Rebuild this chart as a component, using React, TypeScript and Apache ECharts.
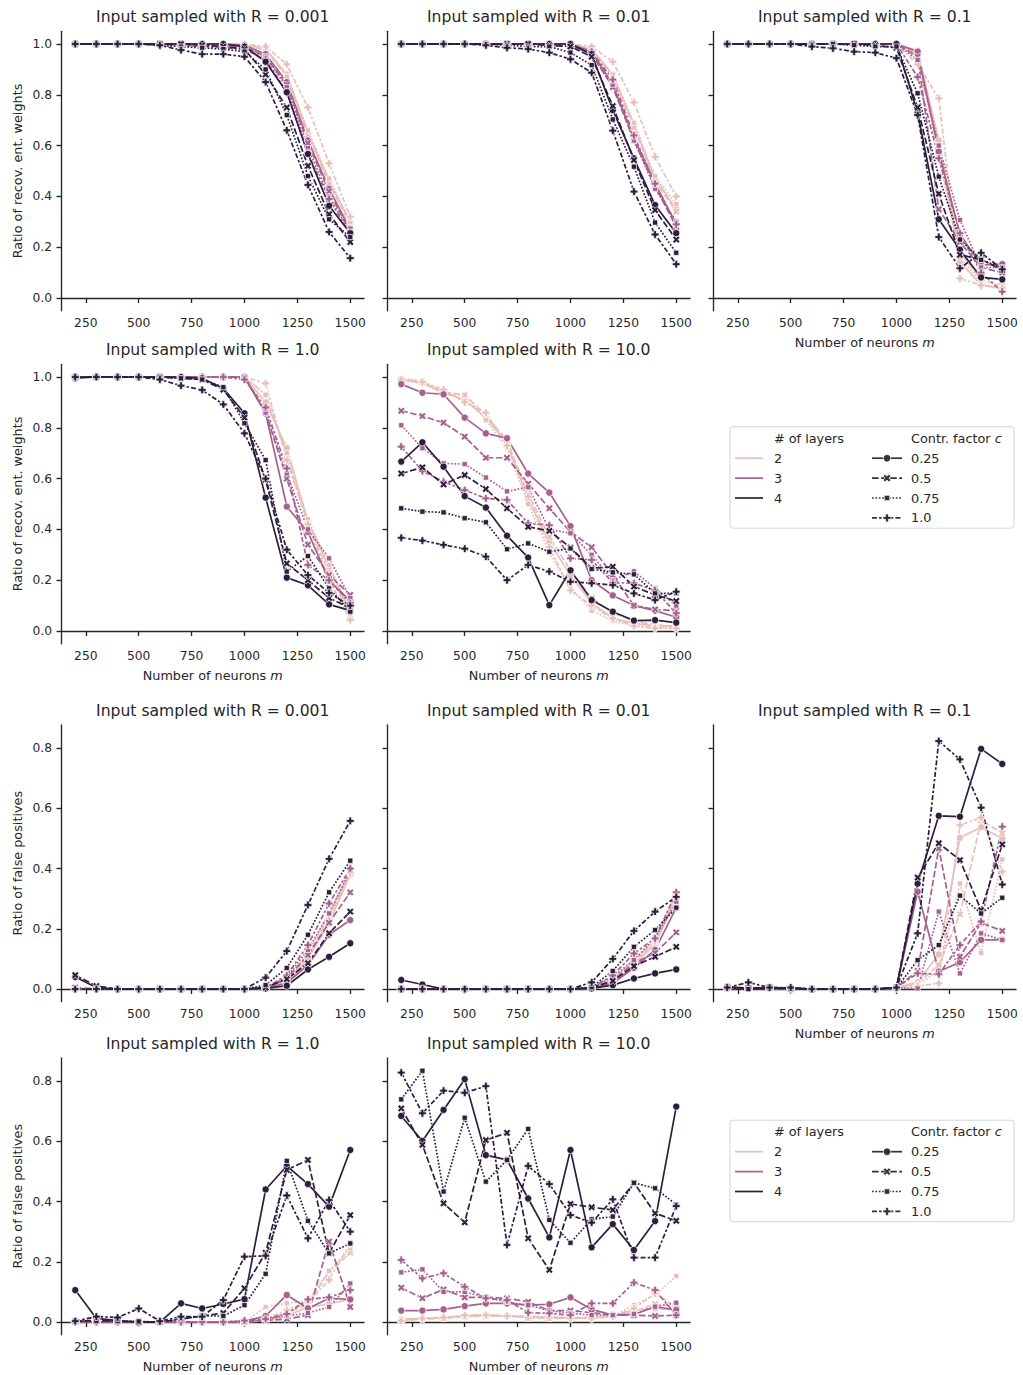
import React, { useEffect, useRef } from "react";
import * as echarts from "echarts";

// ---------------- data ----------------
const neurons = [200, 300, 400, 500, 600, 700, 800, 900, 1000, 1100, 1200, 1300, 1400, 1500];
const xTicks = [250, 500, 750, 1000, 1250, 1500];
const recTicks = [0, 0.2, 0.4, 0.6, 0.8, 1.0];
const fpTicks = [0, 0.2, 0.4, 0.6, 0.8];
const layers = ["2", "3", "4"];
const contrFactors = ["0.25", "0.5", "0.75", "1.0"];
const radii = ["0.001", "0.01", "0.1", "1.0", "10.0"];

// each array: rows = c 0.25, 0.5, 0.75, 1.0 ; columns = neurons
const rec_R0001_L2 = [
  [1, 1, 1, 1, 1, 1, 1, 1, 1, 0.98, 0.88, 0.65, 0.46, 0.30],
  [1, 1, 1, 1, 1, 1, 0.995, 0.99, 0.99, 0.98, 0.87, 0.64, 0.45, 0.29],
  [1, 1, 1, 1, 1, 0.995, 0.995, 0.99, 0.99, 0.98, 0.87, 0.66, 0.47, 0.30],
  [1, 1, 1, 1, 1, 1, 1, 1, 1, 0.99, 0.92, 0.75, 0.53, 0.32],
];
const rec_R0001_L3 = [
  [1, 1, 1, 1, 1, 1, 1, 1, 0.995, 0.96, 0.85, 0.62, 0.43, 0.27],
  [1, 1, 1, 1, 1, 1, 1, 0.995, 0.99, 0.95, 0.84, 0.61, 0.42, 0.26],
  [1, 1, 1, 1, 1, 1, 0.995, 0.99, 0.99, 0.95, 0.83, 0.59, 0.40, 0.26],
  [1, 1, 1, 1, 1, 0.995, 0.99, 0.985, 0.98, 0.94, 0.81, 0.57, 0.39, 0.25],
];
const rec_R0001_L4 = [
  [1, 1, 1, 1, 1, 1, 1, 1, 0.99, 0.93, 0.81, 0.567, 0.363, 0.255],
  [1, 1, 1, 1, 1, 1, 0.995, 0.99, 0.98, 0.88, 0.75, 0.52, 0.33, 0.22],
  [1, 1, 1, 1, 0.995, 0.99, 0.985, 0.98, 0.97, 0.90, 0.72, 0.48, 0.31, 0.24],
  [1, 1, 1, 1, 0.995, 0.976, 0.96, 0.96, 0.95, 0.85, 0.66, 0.445, 0.26, 0.157],
];

const rec_R001_L2 = [
  [1, 1, 1, 1, 1, 1, 1, 1, 1, 0.98, 0.88, 0.68, 0.47, 0.35],
  [1, 1, 1, 1, 1, 1, 1, 1, 1, 0.98, 0.87, 0.67, 0.46, 0.34],
  [1, 1, 1, 1, 1, 1, 1, 1, 0.995, 0.98, 0.88, 0.69, 0.48, 0.37],
  [1, 1, 1, 1, 1, 1, 1, 1, 1, 0.99, 0.93, 0.77, 0.556, 0.40],
];
const rec_R001_L3 = [
  [1, 1, 1, 1, 1, 1, 1, 1, 1, 0.97, 0.84, 0.63, 0.45, 0.29],
  [1, 1, 1, 1, 1, 1, 1, 1, 1, 0.96, 0.83, 0.62, 0.44, 0.28],
  [1, 1, 1, 1, 1, 1, 1, 1, 0.995, 0.96, 0.84, 0.62, 0.43, 0.30],
  [1, 1, 1, 1, 1, 1, 1, 0.995, 0.99, 0.97, 0.86, 0.64, 0.45, 0.29],
];
const rec_R001_L4 = [
  [1, 1, 1, 1, 1, 1, 1, 1, 1, 0.96, 0.74, 0.55, 0.366, 0.255],
  [1, 1, 1, 1, 1, 1, 1, 0.995, 0.99, 0.95, 0.756, 0.543, 0.346, 0.23],
  [1, 1, 1, 1, 1, 0.995, 0.99, 0.99, 0.966, 0.917, 0.703, 0.517, 0.297, 0.178],
  [1, 1, 1, 1, 0.995, 0.985, 0.98, 0.966, 0.94, 0.887, 0.659, 0.419, 0.25, 0.133],
];

const rec_R01_L2 = [
  [1, 1, 1, 1, 1, 1, 1, 1, 1, 0.974, 0.62, 0.143, 0.05, 0.04],
  [1, 1, 1, 1, 1, 1, 1, 1, 1, 0.96, 0.6, 0.18, 0.07, 0.05],
  [1, 1, 1, 1, 1, 1, 1, 1, 1, 0.95, 0.556, 0.16, 0.06, 0.03],
  [1, 1, 1, 1, 1, 1, 1, 1, 1, 0.92, 0.786, 0.077, 0.05, 0.04],
];
const rec_R01_L3 = [
  [1, 1, 1, 1, 1, 1, 1, 1, 1, 0.97, 0.576, 0.25, 0.13, 0.133],
  [1, 1, 1, 1, 1, 1, 1, 1, 1, 0.95, 0.35, 0.22, 0.12, 0.10],
  [1, 1, 1, 1, 1, 1, 1, 1, 1, 0.937, 0.6, 0.307, 0.12, 0.12],
  [1, 1, 1, 1, 1, 1, 1, 1, 1, 0.87, 0.55, 0.255, 0.10, 0.025],
];
const rec_R01_L4 = [
  [1, 1, 1, 1, 1, 1, 1, 1, 1, 0.73, 0.31, 0.19, 0.081, 0.073],
  [1, 1, 1, 1, 1, 1, 1, 0.995, 0.985, 0.75, 0.41, 0.17, 0.152, 0.11],
  [1, 1, 1, 1, 1, 1, 0.995, 0.99, 0.99, 0.806, 0.478, 0.23, 0.15, 0.12],
  [1, 1, 1, 1, 0.99, 0.983, 0.97, 0.966, 0.944, 0.72, 0.24, 0.117, 0.178, 0.113],
];

const rec_R1_L2 = [
  [1, 1, 1, 1, 1, 1, 1, 1, 1, 0.9, 0.72, 0.43, 0.25, 0.076],
  [1, 1, 1, 1, 1, 1, 1, 1, 1, 0.93, 0.69, 0.42, 0.23, 0.06],
  [1, 1, 1, 1, 1, 1, 1, 1, 1, 0.93, 0.7, 0.44, 0.26, 0.08],
  [1, 1, 1, 1, 1, 1, 1, 1, 1, 0.975, 0.673, 0.42, 0.2, 0.043],
];
const rec_R1_L3 = [
  [1, 1, 1, 1, 1, 1, 1, 1, 1, 0.857, 0.49, 0.39, 0.197, 0.12],
  [1, 1, 1, 1, 1, 1, 1, 1, 1, 0.86, 0.6, 0.34, 0.22, 0.142],
  [1, 1, 1, 1, 1, 1, 1, 1, 1, 0.86, 0.62, 0.4, 0.286, 0.13],
  [1, 1, 1, 1, 1, 1, 1, 1, 0.99, 0.88, 0.64, 0.26, 0.2, 0.11],
];
const rec_R1_L4 = [
  [0.995, 1, 1, 1, 1, 1, 0.995, 0.955, 0.857, 0.525, 0.21, 0.18, 0.105, 0.08],
  [1, 1, 1, 1, 1, 0.995, 0.99, 0.95, 0.84, 0.595, 0.266, 0.2, 0.13, 0.09],
  [1, 1, 1, 1, 1, 0.995, 0.99, 0.96, 0.818, 0.673, 0.234, 0.295, 0.168, 0.076],
  [1, 1, 1, 1, 0.99, 0.966, 0.949, 0.892, 0.778, 0.6, 0.32, 0.22, 0.15, 0.1],
];

const rec_R10_L2 = [
  [0.99, 0.975, 0.94, 0.91, 0.84, 0.74, 0.52, 0.35, 0.22, 0.11, 0.05, 0.03, 0.02, 0.02],
  [0.99, 0.98, 0.94, 0.93, 0.85, 0.75, 0.54, 0.37, 0.24, 0.13, 0.07, 0.04, 0.025, 0.015],
  [0.995, 0.985, 0.93, 0.93, 0.83, 0.72, 0.5, 0.31, 0.17, 0.08, 0.04, 0.02, 0.015, 0.01],
  [0.99, 0.98, 0.95, 0.9, 0.86, 0.73, 0.53, 0.33, 0.16, 0.1, 0.05, 0.02, 0.01, 0.01],
];
const rec_R10_L3 = [
  [0.972, 0.938, 0.932, 0.84, 0.778, 0.759, 0.62, 0.545, 0.413, 0.2, 0.14, 0.1, 0.08, 0.054],
  [0.867, 0.846, 0.82, 0.765, 0.682, 0.682, 0.58, 0.483, 0.39, 0.33, 0.22, 0.1, 0.085, 0.08],
  [0.81, 0.72, 0.66, 0.657, 0.604, 0.55, 0.566, 0.4, 0.385, 0.3, 0.2, 0.235, 0.168, 0.1],
  [0.726, 0.63, 0.588, 0.555, 0.522, 0.516, 0.424, 0.417, 0.286, 0.28, 0.19, 0.188, 0.16, 0.07],
];
const rec_R10_L4 = [
  [0.667, 0.743, 0.647, 0.531, 0.486, 0.375, 0.289, 0.102, 0.239, 0.122, 0.076, 0.041, 0.043, 0.033],
  [0.62, 0.644, 0.577, 0.614, 0.559, 0.483, 0.41, 0.394, 0.328, 0.247, 0.253, 0.175, 0.142, 0.118],
  [0.483, 0.47, 0.467, 0.444, 0.428, 0.322, 0.345, 0.312, 0.325, 0.244, 0.231, 0.223, 0.148, 0.148],
  [0.367, 0.356, 0.339, 0.324, 0.293, 0.2, 0.26, 0.234, 0.194, 0.188, 0.181, 0.148, 0.122, 0.155],
];

const fp_R0001_L2 = [
  [0, 0, 0, 0, 0, 0, 0, 0, 0, 0.003, 0.02, 0.1, 0.22, 0.38],
  [0, 0, 0, 0, 0, 0, 0, 0, 0, 0.003, 0.025, 0.11, 0.24, 0.39],
  [0, 0, 0, 0, 0, 0, 0, 0, 0, 0.005, 0.03, 0.12, 0.25, 0.4],
  [0, 0, 0, 0, 0, 0, 0, 0, 0, 0.003, 0.02, 0.1, 0.23, 0.385],
];
const fp_R0001_L3 = [
  [0, 0, 0, 0, 0, 0, 0, 0, 0, 0.002, 0.02, 0.08, 0.18, 0.229],
  [0.005, 0, 0, 0, 0, 0, 0, 0, 0, 0.003, 0.035, 0.113, 0.22, 0.321],
  [0, 0, 0, 0, 0, 0, 0, 0, 0, 0.004, 0.04, 0.13, 0.251, 0.393],
  [0, 0, 0, 0, 0, 0, 0, 0, 0, 0.005, 0.045, 0.146, 0.284, 0.4],
];
const fp_R0001_L4 = [
  [0.04, 0.005, 0, 0, 0, 0, 0, 0, 0, 0.002, 0.011, 0.065, 0.107, 0.152],
  [0.046, 0.01, 0, 0, 0, 0, 0, 0, 0, 0.005, 0.033, 0.086, 0.185, 0.257],
  [0, 0, 0, 0, 0, 0, 0, 0, 0, 0.013, 0.07, 0.18, 0.321, 0.426],
  [0, 0, 0, 0, 0, 0, 0, 0, 0, 0.038, 0.126, 0.279, 0.432, 0.558],
];

const fp_R001_L2 = [
  [0, 0, 0, 0, 0, 0, 0, 0, 0, 0.002, 0.02, 0.08, 0.15, 0.3],
  [0, 0, 0, 0, 0, 0, 0, 0, 0, 0.002, 0.025, 0.09, 0.16, 0.29],
  [0, 0, 0, 0, 0, 0, 0, 0, 0, 0.003, 0.03, 0.095, 0.15, 0.31],
  [0, 0, 0, 0, 0, 0, 0, 0, 0, 0.002, 0.03, 0.1, 0.16, 0.32],
];
const fp_R001_L3 = [
  [0, 0, 0, 0, 0, 0, 0, 0, 0, 0.002, 0.02, 0.07, 0.13, 0.27],
  [0, 0, 0, 0, 0, 0, 0, 0, 0, 0.003, 0.03, 0.085, 0.12, 0.188],
  [0, 0, 0, 0, 0, 0, 0, 0, 0, 0.004, 0.04, 0.096, 0.17, 0.29],
  [0, 0, 0, 0, 0, 0, 0, 0, 0, 0.004, 0.045, 0.118, 0.168, 0.321],
];
const fp_R001_L4 = [
  [0.03, 0.015, 0, 0, 0, 0, 0, 0, 0, 0.002, 0.013, 0.035, 0.052, 0.065],
  [0, 0, 0, 0, 0, 0, 0, 0, 0, 0.004, 0.027, 0.076, 0.107, 0.14],
  [0, 0, 0, 0, 0, 0, 0, 0, 0, 0.006, 0.06, 0.14, 0.196, 0.27],
  [0, 0, 0, 0, 0, 0, 0, 0, 0, 0.022, 0.1, 0.193, 0.257, 0.306],
];

const fp_R01_L2 = [
  [0.005, 0.003, 0.005, 0.002, 0, 0, 0, 0, 0.003, 0.024, 0.115, 0.502, 0.537, 0.5],
  [0.003, 0.005, 0.003, 0.002, 0, 0, 0, 0, 0.003, 0.02, 0.08, 0.248, 0.56, 0.517],
  [0.002, 0.003, 0.003, 0.002, 0, 0, 0, 0, 0.003, 0.015, 0.06, 0.35, 0.12, 0.43],
  [0.005, 0.005, 0.005, 0.002, 0, 0, 0, 0, 0.003, 0.01, 0.019, 0.544, 0.569, 0.39],
];
const fp_R01_L3 = [
  [0.005, 0.003, 0.003, 0, 0, 0, 0, 0, 0.003, 0.323, 0.058, 0.089, 0.163, 0.163],
  [0.003, 0.003, 0.002, 0, 0, 0, 0, 0, 0.005, 0.06, 0.467, 0.107, 0.22, 0.193],
  [0.003, 0, 0.002, 0, 0, 0, 0, 0, 0.003, 0.002, 0.257, 0.052, 0.185, 0.163],
  [0.005, 0.003, 0.003, 0, 0, 0, 0, 0, 0.005, 0.052, 0.049, 0.146, 0.224, 0.539],
];
const fp_R01_L4 = [
  [0.008, 0.002, 0.005, 0.003, 0, 0, 0, 0, 0.005, 0.35, 0.575, 0.572, 0.797, 0.747],
  [0.005, 0.003, 0.005, 0.002, 0, 0, 0, 0, 0.005, 0.37, 0.484, 0.428, 0.262, 0.48],
  [0.003, 0, 0.002, 0, 0, 0, 0, 0, 0.003, 0.096, 0.146, 0.31, 0.251, 0.303],
  [0.005, 0.022, 0.005, 0.005, 0, 0, 0, 0, 0.005, 0.185, 0.823, 0.762, 0.602, 0.347],
];

const fp_R1_L2 = [
  [0, 0, 0, 0, 0, 0, 0, 0, 0, 0.005, 0.02, 0.05, 0.06, 0.075],
  [0, 0, 0, 0, 0, 0, 0, 0, 0, 0.01, 0.03, 0.06, 0.167, 0.23],
  [0, 0, 0, 0, 0, 0, 0, 0, 0, 0.05, 0.062, 0.07, 0.17, 0.245],
  [0, 0, 0, 0, 0, 0, 0, 0, 0, 0.01, 0.04, 0.065, 0.14, 0.26],
];
const fp_R1_L3 = [
  [0, 0, 0, 0, 0, 0, 0, 0, 0.003, 0.02, 0.09, 0.045, 0.079, 0.075],
  [0, 0, 0, 0, 0, 0, 0, 0, 0, 0.005, 0.01, 0.023, 0.267, 0.05],
  [0, 0, 0, 0, 0, 0, 0, 0, 0, 0.01, 0.02, 0.03, 0.05, 0.128],
  [0, 0, 0, 0, 0, 0, 0, 0, 0.005, 0.01, 0.027, 0.075, 0.082, 0.106],
];
const fp_R1_L4 = [
  [0.106, 0.012, 0.005, 0, 0, 0.062, 0.045, 0.06, 0.076, 0.44, 0.518, 0.458, 0.383, 0.571],
  [0.003, 0.005, 0.003, 0, 0, 0.01, 0.02, 0.03, 0.112, 0.23, 0.505, 0.538, 0.228, 0.355],
  [0.003, 0.003, 0.003, 0.002, 0, 0.01, 0.02, 0.02, 0.056, 0.16, 0.535, 0.336, 0.228, 0.261],
  [0.003, 0.018, 0.015, 0.045, 0.003, 0.018, 0.018, 0.073, 0.217, 0.22, 0.42, 0.278, 0.405, 0.3],
];

const fp_R10_L2 = [
  [0.01, 0.012, 0.015, 0.02, 0.022, 0.02, 0.018, 0.015, 0.015, 0.015, 0.02, 0.04, 0.045, 0.04],
  [0.005, 0.01, 0.012, 0.018, 0.02, 0.02, 0.015, 0.012, 0.012, 0.015, 0.02, 0.035, 0.06, 0.05],
  [0.008, 0.01, 0.015, 0.02, 0.025, 0.02, 0.02, 0.018, 0.015, 0.012, 0.02, 0.056, 0.09, 0.153],
  [0.004, 0.012, 0.015, 0.023, 0.023, 0.02, 0.015, 0.015, 0.012, 0.012, 0.018, 0.045, 0.095, 0.051],
];
const fp_R10_L3 = [
  [0.038, 0.038, 0.042, 0.053, 0.062, 0.062, 0.056, 0.059, 0.082, 0.042, 0.023, 0.025, 0.051, 0.04],
  [0.114, 0.079, 0.108, 0.082, 0.082, 0.079, 0.067, 0.038, 0.038, 0.031, 0.023, 0.023, 0.02, 0.023],
  [0.165, 0.175, 0.1, 0.1, 0.082, 0.067, 0.056, 0.038, 0.029, 0.023, 0.023, 0.027, 0.051, 0.064],
  [0.206, 0.145, 0.162, 0.117, 0.079, 0.073, 0.031, 0.029, 0.023, 0.062, 0.062, 0.131, 0.106, 0.023],
];
const fp_R10_L4 = [
  [0.684, 0.601, 0.704, 0.806, 0.554, 0.538, 0.41, 0.281, 0.571, 0.248, 0.325, 0.239, 0.335, 0.715],
  [0.709, 0.588, 0.394, 0.331, 0.604, 0.628, 0.278, 0.173, 0.392, 0.381, 0.372, 0.462, 0.361, 0.336],
  [0.739, 0.834, 0.433, 0.678, 0.466, 0.538, 0.641, 0.339, 0.263, 0.341, 0.35, 0.462, 0.444, 0.39],
  [0.828, 0.693, 0.768, 0.761, 0.783, 0.256, 0.518, 0.458, 0.355, 0.33, 0.407, 0.214, 0.214, 0.385],
];

// ---------------- styling / layout ----------------
const FONT = "'DejaVu Sans', sans-serif";
const TXT = "#262626";
const layerColors = ["#e7bfb9", "#a5608e", "#2d1e3e"];
const LW = 1.7;
const EDGE = 0.7;

const X_PTS = [[2.5, 0], [5, 2.5], [7.5, 0], [10, 2.5], [7.5, 5], [10, 7.5], [7.5, 10], [5, 7.5], [2.5, 10], [0, 7.5], [2.5, 5], [0, 2.5]];
const P_PTS = [[3.2, 0], [6.8, 0], [6.8, 3.2], [10, 3.2], [10, 6.8], [6.8, 6.8], [6.8, 10], [3.2, 10], [3.2, 6.8], [0, 6.8], [0, 3.2], [3.2, 3.2]];
const toPath = (pts: number[][]) => "path://M" + pts.map((p) => p.join(",")).join("L") + "Z";

const STY = [
  { symbol: "circle", size: 7.2, dash: "solid" as any, kind: "circle" },
  { symbol: toPath(X_PTS), size: 7.4, dash: [6.6, 2.5], kind: "x" },
  { symbol: "rect", size: 5.2, dash: [1.7, 1.7], kind: "square" },
  { symbol: toPath(P_PTS), size: 7.8, dash: [5, 2.1, 2.5, 2.1], kind: "plus" },
];

const colLeft = [61.5, 387.5, 713.5];
const plotW = 302.5;
const rowTop = [31.3, 364.3, 724.8, 1057.8];
const recRange = [-0.05, 1.05];
const fpRange = [-0.042, 0.877];
const recH = 279.4;
const fpH = 276.9;

const panels = [
  { r: 0, c: 0, fp: false, rad: 0, data: [rec_R0001_L2, rec_R0001_L3, rec_R0001_L4], xName: false },
  { r: 0, c: 1, fp: false, rad: 1, data: [rec_R001_L2, rec_R001_L3, rec_R001_L4], xName: false },
  { r: 0, c: 2, fp: false, rad: 2, data: [rec_R01_L2, rec_R01_L3, rec_R01_L4], xName: true },
  { r: 1, c: 0, fp: false, rad: 3, data: [rec_R1_L2, rec_R1_L3, rec_R1_L4], xName: true },
  { r: 1, c: 1, fp: false, rad: 4, data: [rec_R10_L2, rec_R10_L3, rec_R10_L4], xName: true },
  { r: 2, c: 0, fp: true, rad: 0, data: [fp_R0001_L2, fp_R0001_L3, fp_R0001_L4], xName: false },
  { r: 2, c: 1, fp: true, rad: 1, data: [fp_R001_L2, fp_R001_L3, fp_R001_L4], xName: false },
  { r: 2, c: 2, fp: true, rad: 2, data: [fp_R01_L2, fp_R01_L3, fp_R01_L4], xName: true },
  { r: 3, c: 0, fp: true, rad: 3, data: [fp_R1_L2, fp_R1_L3, fp_R1_L4], xName: true },
  { r: 3, c: 1, fp: true, rad: 4, data: [fp_R10_L2, fp_R10_L3, fp_R10_L4], xName: true },
];

function txt(text: string, x: number, y: number, o: any = {}) {
  const size = o.size ?? 12.8;
  return {
    type: "text",
    x,
    y,
    rotation: o.rotation ?? 0,
    silent: true,
    z: 10,
    style: {
      text,
      fill: TXT,
      fontSize: size,
      fontFamily: FONT,
      align: o.align ?? "left",
      verticalAlign: "middle",
      rich: {
        i: { fontStyle: "italic", fontSize: size, fontFamily: FONT, fill: TXT },
      },
    },
  };
}

function markerEl(kind: string, cx: number, cy: number, color: string) {
  const style = { fill: color, stroke: "#fff", lineWidth: EDGE };
  if (kind === "circle") return { type: "circle", shape: { cx, cy, r: 3.7 }, style, z: 11 };
  if (kind === "square") return { type: "rect", shape: { x: cx - 2.7, y: cy - 2.7, width: 5.4, height: 5.4 }, style, z: 11 };
  const pts = kind === "x" ? X_PTS : P_PTS;
  const s = kind === "x" ? 0.76 : 0.8;
  return {
    type: "polygon",
    shape: { points: pts.map((p) => [cx + (p[0] - 5) * s, cy + (p[1] - 5) * s]) },
    style,
    z: 11,
  };
}

function legendEls(top: number) {
  const els: any[] = [];
  els.push({
    type: "rect",
    shape: { x: 730, y: top, width: 284, height: 101.5, r: 3 },
    style: { fill: "#fff", stroke: "#d5d5d5", lineWidth: 1 },
    z: 9,
  });
  const rowY = (k: number) => top + 11.6 + 19.9 * k;
  els.push(txt("# of layers", 774, rowY(0)));
  layers.forEach((L, i) => {
    els.push({
      type: "line",
      shape: { x1: 735, y1: rowY(i + 1), x2: 763, y2: rowY(i + 1) },
      style: { stroke: layerColors[i], lineWidth: LW },
      z: 10,
    });
    els.push(txt(L, 774, rowY(i + 1)));
  });
  els.push(txt("Contr. factor {i|c}", 911, rowY(0)));
  contrFactors.forEach((c, j) => {
    const y = rowY(j + 1);
    const st = STY[j];
    els.push({
      type: "line",
      shape: { x1: 872, y1: y, x2: 902, y2: y },
      style: { stroke: "#333333", lineWidth: LW, lineDash: st.dash === "solid" ? null : st.dash },
      z: 10,
    });
    els.push(markerEl(st.kind, 887, y, "#333333"));
    els.push(txt(c, 911, y));
  });
  return els;
}

function buildOption() {
  const grid: any[] = [];
  const xAxis: any[] = [];
  const yAxis: any[] = [];
  const series: any[] = [];
  const graphic: any[] = [];

  panels.forEach((p, i) => {
    const h = p.fp ? fpH : recH;
    const range = p.fp ? fpRange : recRange;
    const ticks = p.fp ? fpTicks : recTicks;
    const left = colLeft[p.c];
    const top = rowTop[p.r];
    grid.push({ left, top, width: plotW, height: h, containLabel: false });
    const axisLine = { show: true, lineStyle: { color: TXT, width: 1.35 } };
    xAxis.push({
      gridIndex: i,
      type: "value",
      min: 135,
      max: 1565,
      axisLine,
      axisTick: { show: true, length: 5, customValues: xTicks, lineStyle: { color: TXT, width: 1.35 } },
      axisLabel: {
        show: true,
        customValues: xTicks,
        color: TXT,
        fontSize: 12.3,
        fontFamily: FONT,
        margin: 6.5,
        formatter: (v: number) => String(v),
      },
      splitLine: { show: false },
    });
    yAxis.push({
      gridIndex: i,
      type: "value",
      min: range[0],
      max: range[1],
      axisLine,
      axisTick: { show: true, length: 5, customValues: ticks, lineStyle: { color: TXT, width: 1.35 } },
      axisLabel: {
        show: p.c === 0,
        customValues: ticks,
        color: TXT,
        fontSize: 12.3,
        fontFamily: FONT,
        margin: 9.5,
        formatter: (v: number) => v.toFixed(1),
      },
      splitLine: { show: false },
    });

    p.data.forEach((layerArr, li) => {
      layerArr.forEach((vals, si) => {
        const st = STY[si];
        series.push({
          type: "line",
          xAxisIndex: i,
          yAxisIndex: i,
          data: neurons.map((x, k) => [x, vals[k]]),
          symbol: st.symbol,
          symbolSize: st.size,
          showSymbol: true,
          clip: false,
          silent: true,
          emphasis: { disabled: true },
          lineStyle: { color: layerColors[li], width: LW, type: st.dash, cap: "butt", join: "round" },
          itemStyle: { color: layerColors[li], borderColor: "#fff", borderWidth: EDGE },
        });
      });
    });

    const cx = left + plotW / 2;
    graphic.push(txt("Input sampled with R = " + radii[p.rad], cx, top - 14, { size: 15.6, align: "center" }));
    if (p.xName) graphic.push(txt("Number of neurons {i|m}", cx, top + h + 32, { align: "center" }));
    if (p.c === 0)
      graphic.push(
        txt(p.fp ? "Ratio of false positives" : "Ratio of recov. ent. weights", 17, top + h / 2, {
          align: "center",
          rotation: Math.PI / 2,
        })
      );
  });

  graphic.push(...legendEls(426.7));
  graphic.push(...legendEls(1120.2));

  return {
    animation: false,
    backgroundColor: "#ffffff",
    textStyle: { fontFamily: FONT },
    grid,
    xAxis,
    yAxis,
    series,
    graphic: { elements: graphic },
  };
}

export default function App() {
  const ref = useRef<HTMLDivElement>(null);
  useEffect(() => {
    const chart = echarts.init(ref.current!, null, { renderer: "svg" });
    chart.setOption(buildOption() as any);
    return () => chart.dispose();
  }, []);
  return (
    <div
      ref={ref}
      style={{ position: "absolute", left: 0, top: 0, width: 1023, height: 1375, background: "#fff" }}
    />
  );
}
